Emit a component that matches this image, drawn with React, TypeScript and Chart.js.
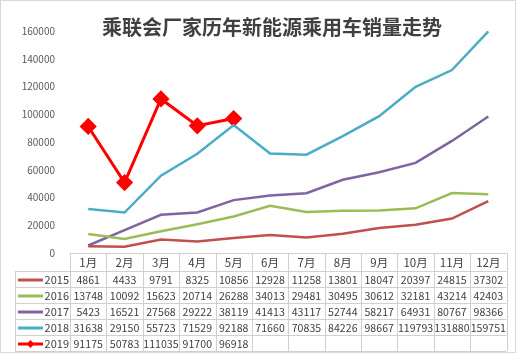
import React, { useEffect, useRef } from "react";
import { Chart, registerables } from "chart.js";

Chart.register(...registerables);

const title = "乘联会厂家历年新能源乘用车销量走势";
const months = ["1月", "2月", "3月", "4月", "5月", "6月", "7月", "8月", "9月", "10月", "11月", "12月"];
const seriesNames = ["2015", "2016", "2017", "2018", "2019"];
const v2015 = [4861, 4433, 9791, 8325, 10856, 12928, 11258, 13801, 18047, 20397, 24815, 37302];
const v2016 = [13748, 10092, 15623, 20714, 26288, 34013, 29481, 30495, 30612, 32181, 43214, 42403];
const v2017 = [5423, 16521, 27568, 29222, 38119, 41413, 43117, 52744, 58217, 64931, 80767, 98366];
const v2018 = [31638, 29150, 55723, 71529, 92188, 71660, 70835, 84226, 98667, 119793, 131880, 159751];
const v2019 = [91175, 50783, 111035, 91700, 96918, null, null, null, null, null, null, null];
const colors = ["#C0504D", "#9BBB59", "#8064A2", "#4BACC6", "#FF0000"];

const FONT = '"Noto Sans CJK SC", "Noto Sans", sans-serif';

const tablePlugin = {
  id: "tablePlugin",
  beforeDraw(chart: any) {
    const ctx = chart.ctx;
    ctx.save();
    ctx.fillStyle = "#ffffff";
    ctx.fillRect(0, 0, chart.width, chart.height);
    ctx.strokeStyle = "#d9d9d9";
    ctx.lineWidth = 1;
    ctx.strokeRect(0.5, 0.5, chart.width - 1, chart.height - 1);
    ctx.restore();
  },
  afterDraw(chart: any) {
    const ctx = chart.ctx;
    const area = chart.chartArea;
    const xs = chart.scales.x;
    const n = months.length;
    const colW = (area.right - area.left) / n;
    const top = area.bottom;
    const headH = 18;
    const rowH = 16;
    const labelLeft = 15;
    const rows = chart.data.datasets.length;
    const bottom = top + headH + rows * rowH;
    ctx.save();
    // title
    ctx.fillStyle = "#404040";
    ctx.font = `bold 20px ${FONT}`;
    ctx.textAlign = "center";
    ctx.textBaseline = "middle";
    ctx.fillText(title, 272, 27);

    // grid lines
    ctx.strokeStyle = "#d0d0d0";
    ctx.lineWidth = 1;
    ctx.beginPath();
    ctx.moveTo(area.left, top + 0.5);
    ctx.lineTo(area.right, top + 0.5);
    for (let r = 0; r <= rows; r++) {
      const y = Math.round(top + headH + r * rowH) + 0.5;
      ctx.moveTo(labelLeft, y);
      ctx.lineTo(area.right, y);
    }
    for (let c = 0; c <= n; c++) {
      const x = Math.round(area.left + c * colW) + 0.5;
      ctx.moveTo(x, top);
      ctx.lineTo(x, bottom);
    }
    ctx.moveTo(labelLeft + 0.5, top + headH);
    ctx.lineTo(labelLeft + 0.5, bottom);
    ctx.stroke();

    // header
    ctx.fillStyle = "#404040";
    ctx.font = `11.5px ${FONT}`;
    ctx.textAlign = "center";
    ctx.textBaseline = "middle";
    months.forEach((m, i) => {
      ctx.fillText(m, xs.getPixelForValue(i), top + headH / 2 + 1);
    });

    // rows
    chart.data.datasets.forEach((ds: any, r: number) => {
      const yc = top + headH + r * rowH + rowH / 2 + 1;
      // swatch
      ctx.strokeStyle = ds.borderColor;
      ctx.lineWidth = 3;
      ctx.beginPath();
      ctx.moveTo(18, yc);
      ctx.lineTo(43, yc);
      ctx.stroke();
      if (ds.pointRadius > 0) {
        ctx.fillStyle = ds.borderColor;
        ctx.beginPath();
        ctx.moveTo(30.5, yc - 4);
        ctx.lineTo(34.5, yc);
        ctx.lineTo(30.5, yc + 4);
        ctx.lineTo(26.5, yc);
        ctx.closePath();
        ctx.fill();
      }
      ctx.fillStyle = "#404040";
      ctx.font = `11px ${FONT}`;
      ctx.textAlign = "right";
      ctx.fillText(ds.label, area.left - 1, yc);
      ctx.font = `10.6px ${FONT}`;
      ctx.textAlign = "center";
      ds.data.forEach((v: number | null, i: number) => {
        if (v === null || v === undefined) return;
        ctx.fillText(String(v), xs.getPixelForValue(i), yc);
      });
    });
    ctx.restore();
  },
};

export default function App() {
  const ref = useRef<HTMLCanvasElement>(null);
  useEffect(() => {
    if (!ref.current) return;
    const all = [v2015, v2016, v2017, v2018, v2019];
    const chart = new Chart(ref.current, {
      type: "line",
      data: {
        labels: months,
        datasets: all.map((d, i) => ({
          label: seriesNames[i],
          data: d,
          borderColor: colors[i],
          backgroundColor: colors[i],
          borderWidth: i === 4 ? 3 : 2.5,
          pointRadius: i === 4 ? 6.5 : 0,
          pointHoverRadius: i === 4 ? 6.5 : 0,
          pointStyle: "rectRot",
          tension: 0,
          spanGaps: false,
        })),
      },
      options: {
        animation: false,
        responsive: false,
        maintainAspectRatio: false,
        layout: { padding: { left: 0, right: 6, top: 31, bottom: 100 } },
        plugins: { legend: { display: false }, title: { display: false }, tooltip: { enabled: false } },
        scales: {
          x: {
            type: "category",
            display: false,
            offset: true,
            grid: { display: false },
          },
          y: {
            min: 0,
            max: 160000,
            grid: { display: false },
            border: { display: false },
            ticks: {
              stepSize: 20000,
              padding: 7,
              color: "#595959",
              font: { family: FONT, size: 10 },
              callback: (v: any) => String(v),
            },
            afterFit(scale: any) {
              scale.width = 70;
            },
          },
        },
      },
      plugins: [tablePlugin],
    });
    return () => chart.destroy();
  }, []);
  return (
    <>
      <style>{"body{margin:0}"}</style>
      <canvas ref={ref} width={516} height={353} style={{ display: "block", width: 516, height: 353 }} />
    </>
  );
}
